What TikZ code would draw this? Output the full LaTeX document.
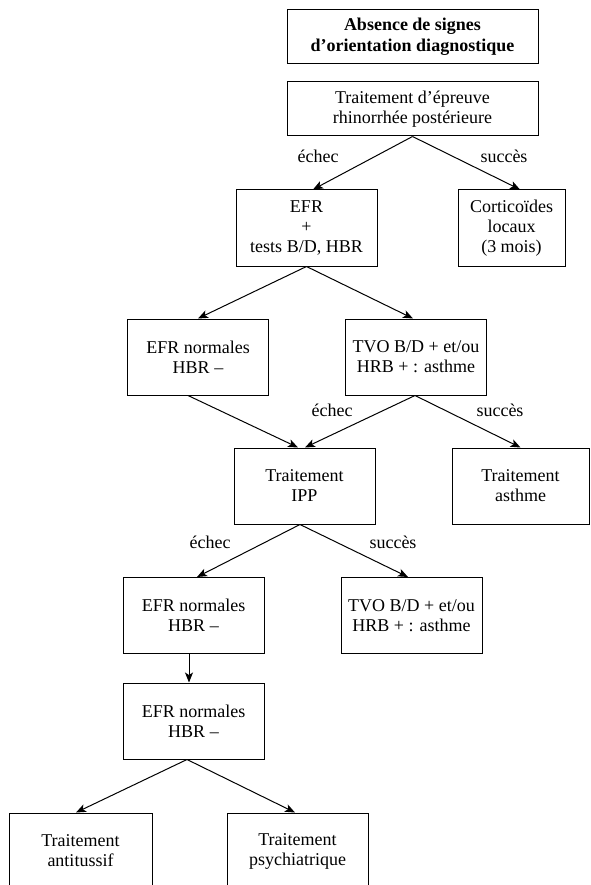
\documentclass[tikz,border=0pt]{standalone}
\usepackage{fontspec}
\setmainfont{Liberation Serif}
\usetikzlibrary{arrows.meta}
\begin{document}
\begin{tikzpicture}[x=1pt,y=-1pt,
  box/.style={draw,line width=1pt,align=center,inner sep=0pt,
    minimum width=141pt,minimum height=76pt,
    font=\fontsize{18}{20}\selectfont},
  wide/.style={box,minimum width=251pt,minimum height=54pt},
  lab/.style={anchor=base,inner sep=0pt,font=\fontsize{18}{20}\selectfont},
  arr/.style={line width=1pt,-{Stealth[length=10pt,width=8pt,inset=2.5pt]}}]
\useasboundingbox (0,0) rectangle (590,885);
\node[wide,font=\fontsize{18}{21}\selectfont\bfseries] (n1) at (412.5,37) {Absence de signes\\d’orientation diagnostique};
\node[wide] (n2) at (412.5,109) {Traitement d’épreuve\\rhinorrhée postérieure};
\node[box] (n3) at (306.5,228) {EFR\\+\\tests B/D, HBR};
\node[box,minimum width=107pt] (n4) at (511.5,228) {Corticoïdes\\locaux\\(3 mois)};
\node[box] (n5) at (198,357) {EFR normales\\HBR –};
\node[box] (n6) at (416,357) {TVO B/D + et/ou\\HRB + : asthme};
\node[box] (n7) at (304.5,486) {Traitement\\IPP};
\node[box,minimum width=137pt] (n8) at (520.5,486) {Traitement\\asthme};
\node[box] (n9) at (193.5,615.5) {EFR normales\\HBR –};
\node[box] (n10) at (411.5,615.5) {TVO B/D + et/ou\\HRB + : asthme};
\node[box] (n11) at (193.5,721) {EFR normales\\HBR –};
\node[box,minimum width=143pt] (n12) at (80.5,851) {Traitement\\antitussif};
\node[box] (n13) at (297.5,851) {Traitement\\psychiatrique};
\node[lab] (l1) at (318,163) {échec};
\node[lab] (l2) at (504,163) {succès};
\node[lab] (l3) at (332,416) {échec};
\node[lab] (l4) at (500,416) {succès};
\node[lab] (l5) at (210,548) {échec};
\node[lab] (l6) at (393,548) {succès};
\draw[arr] (n2.south) -- ([xshift=6.5pt]n3.north);
\draw[arr] (n2.south) -- ([xshift=8.5pt]n4.north);
\draw[arr] (n3.south) -- (n5.north);
\draw[arr] (n3.south) -- ([xshift=-3pt]n6.north);
\draw[arr] ([xshift=-10pt]n5.south) -- ([xshift=-6.5pt]n7.north);
\draw[arr] ([xshift=-1pt]n6.south) -- ([xshift=0.5pt]n7.north);
\draw[arr] ([xshift=-1pt]n6.south) -- (n8.north);
\draw[arr] ([xshift=-4.5pt]n7.south) -- ([xshift=3.5pt]n9.north);
\draw[arr] ([xshift=-4.5pt]n7.south) -- ([xshift=-3.5pt]n10.north);
\draw[arr] ([xshift=-4.5pt]n9.south) -- ([xshift=-4.5pt]n11.north);
\draw[arr] ([xshift=-6.5pt]n11.south) -- ([xshift=-4.5pt]n12.north);
\draw[arr] ([xshift=-6.5pt]n11.south) -- ([xshift=-2.5pt]n13.north);
\end{tikzpicture}
\end{document}
